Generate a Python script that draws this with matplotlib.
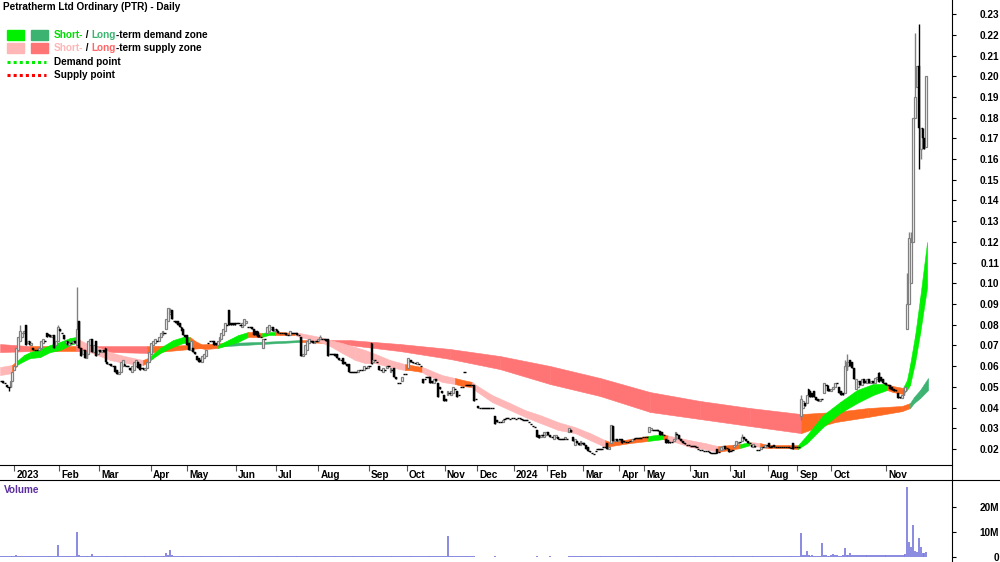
import matplotlib
matplotlib.use('Agg')
import matplotlib.pyplot as plt
from matplotlib.patches import Rectangle
from matplotlib.lines import Line2D
import numpy as np

# daily candles, one slot per trading day, prices in 0.001 AUD
opens = [
    53, 53, 52, 51, 50, 50, 53, 58, 60, 68,
    72, 74, 76, 80, 71, 72, 70, 69, 68, 68,
    68, 69, 71, 72, 76, 75.5, 75, 74, 75, 70,
    72, 78, 76, 75, 71, 72, 70, 71, 71, 72,
    70, 82, 69, 66, 68, 64, 66, 70, 73, 67,
    72, 66, 68, 67, 68, 69, 62, 61, 61, 60,
    60, 58, 56, 57, 60, 61, 60, 60, 59, 57,
    58, 60, 62, 61, 59, 59, 58, 59, 62, 66,
    70, 71, 72, 72, 74, 75, 76, 78, 82, 85,
    87, 82, 82, 82, 81, 79, 78, 75, 75, 71,
    68, 69, 67, 65, 64, 63, 62, 64, 65, 71,
    72, 72, 72, 71, 70, 72, 73, 75, 77, 80,
    87, 81, 81, 81, 81, 81, 80, 79, 80, 81,
    79, 79, 79, 78, 77, 77, 75, 74, 69, 73,
    76, 77, 78, 79, 77, 78, 77, 76, 76, 76,
    76, 75, 75, 76, 76, 76, 76, 75, 74, 65,
    66, 68, 71, 72, 72, 71, 72, 72, 73, 73,
    73, 73, 73, 66, 66, 66, 66, 66, 64, 63,
    64, 62, 61, 61, 57, 57, 57, 57, 57, 58,
    58, 58, 59, 59, 60, 71, 62, 63, 62, 60,
    58, 57, 58, 59, 60, 57, 58, 59, 55, 52,
    52, 53, 56, 56, 59, 62, 63, 62, 61.5, 61,
    61, 60, 54, 54, 55, 55, 55, 53, 52, 54,
    52, 50, 48, 46, 44, 46, 47, 46, 47, 49,
    48, 46, 50, 50, 57, 51, 51, 51, 51, 51,
    44, 41, 40, 40, 40, 40, 40, 40, 40, 40,
    36, 34, 33, 33, 33, 34.5, 35, 35, 34.5, 35,
    35, 34.5, 35, 35, 34.5, 34, 34, 34, 33, 32,
    31, 30.5, 29, 27, 26, 27, 26, 27, 28, 27,
    26, 25, 26, 26, 25, 25, 25, 25, 25, 28,
    29, 26, 22, 24, 23, 22, 23, 23, 22, 21,
    19, 18, 17.5, 19, 20, 20, 20, 21, 21, 23,
    20, 23, 31, 24, 25, 24, 25, 25, 24, 23.5,
    23.5, 24, 24, 25, 25.5, 25.5, 25.5, 25.5, 26, 26,
    26, 28, 29, 29, 29, 29, 29, 28.5, 28, 27,
    25, 24.5, 23.5, 23.5, 24, 25, 27.5, 27, 25, 24,
    23, 22, 22, 21.5, 21.5, 21.5, 21, 20, 19.5, 19.5,
    19, 19, 19, 18.5, 18, 18, 18, 20, 18.5, 19.5,
    20, 21.5, 20.5, 20, 19, 19.5, 21, 22, 23, 23.5,
    24, 26, 25, 24, 23, 22, 21, 21.5, 19.5, 19.5,
    20, 21, 21, 22, 23, 21, 21.5, 22, 21, 21,
    21, 21, 21, 21, 21, 21, 20.5, 23, 21, 21,
    21, 36, 40, 42, 42, 49, 48, 47, 48, 45,
    44, 43, 44, 47, 51, 51, 49, 48, 49, 50,
    52, 50, 48, 47, 47, 58, 60, 63, 62, 59,
    49, 50, 53, 51, 54, 53, 52, 54, 52, 53,
    52, 54, 56.5, 55, 54, 52, 52, 51, 51, 50,
    49, 48.5, 47, 45, 44.5, 46, 48, 78, 90, 100,
    120, 180, 195, 205, 165, 175, 170, 166,
]
closes = [
    53, 52, 52, 50, 50, 53, 57, 60, 69, 74,
    77, 76, 77, 70, 72, 70, 71, 68, 68, 68,
    69, 72, 73, 72, 74, 74.5, 74, 75, 69, 72,
    79, 77, 76, 73, 72, 70, 71, 71, 72, 71,
    78, 69, 65, 68, 64, 67, 72, 73, 67, 70,
    65, 68, 67, 68, 67, 62, 61, 61, 60, 60,
    57, 56, 57, 62, 63, 60, 60, 60, 58, 60,
    62, 63, 59, 58, 59, 58, 59, 62, 67, 71,
    72, 73, 72, 74, 76, 77, 76, 83, 88, 86,
    83, 82, 81, 80, 79, 77, 75, 74, 70, 68,
    72, 67, 66, 63, 62, 62, 65, 66, 68, 71,
    72, 72, 70, 70, 72, 74, 76, 78, 81, 80,
    80, 80, 80, 80, 81, 81, 80, 81, 83, 82,
    79, 79, 78, 75, 75, 74, 74, 74, 73, 73,
    79, 80, 79, 77, 78, 77, 76, 76, 76, 76,
    75, 75, 77, 76, 76, 76, 75, 75, 65, 66,
    70, 72, 73, 72, 71, 72, 72, 73, 74, 73,
    73, 72, 65, 66, 66, 66, 65, 64, 63, 63,
    61, 61, 60, 57, 57, 57, 57, 57, 58, 58,
    58, 60, 59, 60, 60, 61, 63, 63, 62, 58,
    58, 59, 58, 60, 60, 59, 58, 55, 54, 52,
    52, 55, 56, 56, 64, 63, 62, 61.5, 61.5, 62,
    61, 60, 52, 54, 55, 55, 52, 52, 54, 53,
    45, 49, 47, 43, 43, 48, 47, 48, 50, 49,
    45, 46, 50, 50, 57, 51, 51, 51, 51, 43,
    44, 40, 40, 40, 40, 40, 40, 40, 40, 40,
    32, 33, 33, 33, 34, 34.5, 35, 35, 34.5, 35,
    35, 34.5, 35, 35, 34.5, 34, 34, 34, 33, 32,
    31, 30.5, 26, 25.5, 27, 27, 28, 28, 27, 26,
    26, 27, 27, 25, 25, 25, 25, 26, 25, 30,
    28, 24, 25, 23, 22, 24, 23, 22, 20, 19,
    18.5, 18, 17.5, 19, 20, 20, 20, 21, 21, 20,
    21, 31.5, 24, 25, 24, 24.5, 24.5, 23, 23.5, 23.5,
    23.5, 24, 25, 25, 25.5, 25.5, 25.5, 25.5, 26, 26,
    26, 30.5, 30, 29, 29, 29, 28.5, 27, 27, 27,
    23, 23, 23, 23.5, 25, 28, 27, 25, 24, 23,
    22.5, 22, 22, 21.5, 21.5, 21.5, 21, 20, 19.5, 19.5,
    19, 19, 19, 18, 18, 18, 18, 18, 18.5, 21,
    21.5, 20, 20.5, 18.5, 19, 19.5, 22, 24, 23.5, 23.5,
    26, 25, 24, 23, 23, 21, 22.5, 21, 19.5, 19.5,
    21, 21, 22, 22, 21, 21, 21, 21, 21, 21,
    21, 21, 21, 21, 21, 20.5, 20.5, 20, 21, 21,
    21, 44, 43, 41, 46, 46, 45, 45, 45, 43.5,
    43, 44, 44, 52, 51, 48, 48, 49, 50, 52,
    52, 47, 46, 46, 60, 62, 62, 60, 59, 54,
    54, 53, 51, 54, 52, 52, 54, 52, 53, 52,
    54.5, 55, 52.5, 53, 52, 52, 51, 51, 49, 48.5,
    48, 48, 44.5, 44.5, 46, 49, 50, 90, 122, 120,
    180, 190, 205, 175, 175, 170, 165, 200,
]
# notable wicks: slot -> (high, low), same units
wicks = {4: (50, 48), 10: (80, 72), 30: (80, 72), 40: (98, 70), 89: (88, 85),
         168: (75, 73), 390: (27.5, 24), 421: (46, 34), 444: (63, 47),
         445: (66, 58), 462: (57, 52.5), 477: (105, 78), 478: (125, 90),
         479: (125, 100), 481: (221, 180), 483: (225, 155), 484: (175, 160)}

# volume in units of 100k shares
volume = [
    5, 4, 5, 6, 4, 5, 6, 5, 7, 6,
    5, 4, 6, 5, 4, 5, 5, 4, 4, 5,
    5, 5, 4, 5, 5, 4, 5, 5, 4, 4,
    50, 5, 4, 5, 4, 5, 5, 4, 4, 5,
    100, 8, 6, 5, 4, 5, 4, 6, 12, 5,
    5, 4, 5, 4, 4, 6, 5, 4, 4, 5,
    5, 4, 4, 5, 5, 4, 4, 4, 5, 4,
    4, 5, 4, 5, 4, 4, 4, 5, 5, 6,
    5, 5, 4, 5, 6, 5, 6, 15, 7, 30,
    8, 6, 5, 5, 4, 5, 5, 4, 5, 4,
    4, 5, 4, 4, 5, 4, 4, 5, 4, 4,
    4, 4, 5, 4, 4, 5, 4, 5, 5, 4,
    4, 3, 3, 3, 3, 3, 3, 3, 4, 3,
    3, 3, 3, 3, 3, 3, 3, 3, 4, 3,
    3, 3, 3, 3, 3, 3, 3, 3, 3, 3,
    3, 3, 3, 3, 3, 3, 3, 3, 4, 3,
    3, 3, 3, 3, 3, 3, 3, 3, 3, 3,
    3, 3, 4, 3, 3, 3, 3, 3, 3, 3,
    3, 3, 3, 3, 3, 3, 3, 3, 3, 3,
    3, 3, 3, 3, 3, 4, 3, 3, 3, 3,
    3, 3, 3, 3, 3, 3, 3, 3, 3, 3,
    3, 3, 3, 3, 4, 3, 3, 3, 3, 3,
    3, 3, 3, 3, 3, 3, 3, 3, 3, 3,
    3, 3, 3, 3, 3, 85, 3, 3, 3, 3,
    3, 3, 3, 3, 3, 3, 3, 3, 3, 3,
    2, 2, 2, 2, 2, 2, 2, 2, 2, 2,
    3, 2, 2, 2, 2, 2, 2, 2, 2, 2,
    2, 2, 2, 2, 2, 2, 2, 2, 2, 2,
    2, 2, 3, 2, 2, 2, 2, 2, 2, 3,
    2, 2, 2, 2, 2, 2, 2, 2, 2, 3,
    3, 3, 3, 3, 3, 3, 3, 3, 4, 4,
    3, 3, 3, 3, 3, 3, 3, 3, 3, 3,
    3, 6, 4, 3, 3, 3, 3, 3, 3, 3,
    3, 3, 3, 3, 3, 3, 3, 3, 3, 3,
    3, 4, 3, 3, 3, 3, 3, 3, 3, 3,
    3, 3, 3, 3, 3, 4, 3, 3, 3, 3,
    3, 3, 3, 3, 3, 3, 3, 3, 3, 3,
    3, 3, 3, 3, 3, 3, 3, 3, 3, 3,
    3, 3, 3, 3, 3, 3, 3, 4, 3, 3,
    4, 3, 3, 3, 3, 3, 3, 3, 3, 3,
    3, 3, 3, 3, 3, 3, 3, 3, 3, 3,
    3, 3, 3, 3, 3, 3, 3, 4, 3, 3,
    4, 95, 10, 8, 25, 7, 6, 7, 6, 6,
    6, 6, 55, 8, 7, 6, 6, 7, 12, 7,
    7, 6, 6, 8, 35, 10, 8, 15, 8, 7,
    8, 7, 7, 8, 7, 7, 8, 7, 7, 8,
    8, 9, 8, 8, 9, 8, 8, 9, 8, 9,
    9, 9, 10, 9, 9, 10, 12, 280, 60, 40,
    130, 25, 20, 75, 40, 18, 15, 20,
]

# month axis (slot of first trading day)
month_pos = [7, 30.5, 51.5, 79, 98, 123.5, 144.5, 167, 193.5, 213.5, 233.5, 250.5,
             270, 287.5, 306.5, 325.5, 338.5, 362.5, 383.5, 403.5, 419, 437, 466]
month_lab = ['2023', 'Feb', 'Mar', 'Apr', 'May', 'Jun', 'Jul', 'Aug', 'Sep', 'Oct',
             'Nov', 'Dec', '2024', 'Feb', 'Mar', 'Apr', 'May', 'Jun', 'Jul', 'Aug',
             'Sep', 'Oct', 'Nov']

# short-term zone: slot, upper, lower, colour of segment to next point
st_x = [-0.5, 5.8, 8.4, 12.1, 15.3, 20.5, 25.8, 31, 36.3, 39.5, 41.6, 46.8, 52.1,
        57.4, 62.6, 69.5, 74.7, 77.4, 80, 83.7, 90.5, 95.8, 99.5, 102.1, 107.4,
        114.2, 119.5, 124.7, 130, 132.6, 137.4, 140.5, 144.2, 146.8, 154.7, 157.4,
        167.9, 173.2, 179.5, 186.3, 191.6, 196.8, 204.7, 212.6, 215.3, 221.6,
        223.2, 232.1, 238.9, 243.2, 247.9, 250, 258.4, 267.9, 275.8, 283.7, 293.2,
        302.1, 310, 317.9, 320.5, 331, 340.5, 348.4, 351, 354.7, 362.6, 370.5,
        377.4, 389, 394.2, 399.5, 403.7, 414.2, 419.5, 424.2, 432.6, 441.6, 450.5,
        459, 466.3, 469.5, 474.7, 476.8, 478.4, 481.1, 483.7, 487.4]
st_hi = [.0596, .0606, .0625, .0654, .0668, .0683, .0702, .0717, .0736, .0741, .0726,
         .0702, .0688, .0668, .0654, .064, .063, .064, .0659, .0688, .0726, .0741,
         .0741, .0722, .0697, .0702, .0726, .075, .0765, .0765, .076, .0765, .0765,
         .0765, .076, .076, .0741, .0726, .0712, .0693, .0678, .066, .063, .061,
         .0606, .0596, .0591, .0557, .0543, .0533, .0524, .0509, .0461, .0422,
         .0388, .0364, .033, .0306, .0277, .0243, .0234, .0248, .0263, .0272,
         .0265, .0258, .0243, .0229, .0214, .0224, .0234, .0229, .0219, .0219,
         .0219, .0268, .0364, .0427, .0485, .0514, .0514, .0504, .0495, .0533,
         .0606, .075, .0929, .120]
st_lo = [.0557, .0567, .0606, .0625, .0639, .0644, .0668, .0678, .0702, .0712, .0697,
         .0668, .0649, .063, .062, .061, .0606, .062, .0639, .0663, .0693, .0712,
         .0712, .0693, .0683, .0688, .0702, .0717, .0741, .0741, .0741, .075, .075,
         .075, .075, .0741, .0717, .0697, .0664, .063, .0615, .0615, .0596, .0581,
         .0581, .0572, .0562, .0524, .0514, .0504, .0499, .048, .0427, .0388,
         .0355, .0326, .0292, .0277, .0243, .021, .0214, .0229, .0239, .0248,
         .024, .0234, .021, .020, .0186, .0205, .0219, .021, .0205, .0205,
         .020, .0229, .0306, .0374, .0422, .0461, .0485, .0475, .0466, .0485,
         .0509, .062, .076, .0982]
st_col = ['p', 'o', 'g', 'g', 'g', 'g', 'g', 'g', 'g', 'o', 'p', 'p', 'p', 'p', 'p',
          'p', 'o', 'g', 'g', 'g', 'g', 'g', 'o', 'o', 'o', 'g', 'g', 'g', 'o', 'o',
          'g', 'g', 'o', 'o', 'p', 'p', 'p', 'p', 'p', 'p', 'p', 'p', 'p', 'o', 'o',
          'p', 'p', 'p', 'o', 'o', 'p', 'p', 'p', 'p', 'p', 'p', 'p', 'p', 'p', 'o',
          'o', 'o', 'g', 'o', 'p', 'p', 'p', 'p', 'o', 'g', 'p', 'o', 'o', 'o', 'g',
          'g', 'g', 'g', 'g', 'g', 'o', 'o', 'g', 'g', 'g', 'g', 'g']

# long-term zone
lt_x = [-0.5, 15.3, 39.5, 76.8, 99.5, 117.9, 136.3, 157.4, 172.1, 183.7, 210, 236.3,
        262.6, 288.9, 315.3, 341.6, 367.9, 394.2, 421.1, 430, 438.9, 456.3, 474.2,
        478.4, 480.5, 483.7, 487.9]
lt_hi = [.0707, .0697, .0697, .0697, .0702, .0712, .0717, .0726, .0726, .0726, .0707,
         .0683, .0649, .0601, .0543, .0475, .0432, .0398, .0369, .0374, .0379,
         .0398, .0408, .0422, .0451, .0485, .0543]
lt_lo = [.0668, .0673, .0673, .0664, .0683, .0697, .0707, .0717, .0712, .0702, .0673,
         .0635, .0586, .0514, .0456, .0379, .0345, .0311, .0277, .0306, .033,
         .0355, .0383, .0398, .0422, .0446, .0485]
lt_col = ['r', 'o', 'r', 'o', 'o', 'G', 'G', 'o', 'r', 'r', 'r', 'r', 'r', 'r', 'r',
          'r', 'r', 'r', 'o', 'o', 'o', 'o', 'o', 'G', 'G', 'G']

ZONE = {'g': '#00f000', 'G': '#3cb371', 'p': '#ffb6b6', 'r': '#ff7474', 'o': '#ff6a22'}
FONT = dict(family=['Liberation Sans', 'DejaVu Sans'], fontweight='bold', fontsize=7.2)

fig = plt.figure(figsize=(10, 5.62), dpi=100)
ax = fig.add_axes([0, 97 / 562, 0.952, 465 / 562])
vax = fig.add_axes([0, 0, 0.952, 82 / 562])


def draw_zone(xs, hi, lo, cols, z):
    for k in range(len(xs) - 1):
        c = ZONE[cols[k]]
        ax.fill_between(xs[k:k + 2], lo[k:k + 2], hi[k:k + 2], color=c, ec=c, lw=0.4, zorder=z)


draw_zone(lt_x, lt_hi, lt_lo, lt_col, 1)
draw_zone(st_x, st_hi, st_lo, st_col, 2)

o = np.array(opens, dtype=float) / 1000
c = np.array(closes, dtype=float) / 1000
x = np.arange(len(c))
hi = np.maximum(o, c)
lo = np.minimum(o, c)
for k, (h, l) in wicks.items():
    hi[k] = max(hi[k], h / 1000)
    lo[k] = min(lo[k], l / 1000)
up = c > o
dn = c < o
flat = c == o
ax.vlines(x[up], lo[up], hi[up], color='#808080', lw=1.0, zorder=3)
ax.vlines(x[~up], lo[~up], hi[~up], color='black', lw=1.0, zorder=3)
ax.bar(x[up], (c - o)[up], bottom=o[up], width=1.0, facecolor='white',
       edgecolor='#808080', lw=0.9, zorder=4)
ax.bar(x[dn], (o - c)[dn], bottom=c[dn], width=1.0, color='black', lw=0.3,
       edgecolor='black', zorder=4)
ax.hlines(c[flat], x[flat] - 0.6, x[flat] + 0.6, color='black', lw=1.0, zorder=4)

ax.set_xlim(-0.53, 500.5)
ax.set_ylim(0.0123, 0.2368)
for s in ['left', 'top', 'right']:
    ax.spines[s].set_visible(False)
ax.spines['bottom'].set_linewidth(0.8)
ax.yaxis.tick_right()
ticks = [round(0.02 + 0.01 * k, 2) for k in range(22)]
ax.set_yticks(ticks)
ax.set_yticklabels(['%.2f' % t for t in ticks], **FONT)
ax.tick_params(axis='y', direction='out', length=3, width=0.8, pad=31)
plt.setp(ax.get_yticklabels(), ha='right')
ax.set_xticks(month_pos)
ax.set_xticklabels([])
ax.tick_params(axis='x', direction='out', length=4, width=0.8, color='#555555')
for p, lab in zip(month_pos, month_lab):
    ax.annotate(lab, xy=(p, 0), xycoords=('data', 'axes fraction'), xytext=(1.5, -3.5),
                textcoords='offset points', ha='left', va='top', **FONT)

# volume panel
vax.vlines(np.arange(len(volume)), 0, np.array(volume) * 1e5, color='#8080dd', lw=1.3)
vax.set_xlim(-0.53, 500.5)
vax.set_ylim(-2e6, 30.8e6)
for s in ['left', 'top', 'bottom', 'right']:
    vax.spines[s].set_visible(False)
vax.set_xticks([])
vax.yaxis.tick_right()
vax.set_yticks([0, 1e7, 2e7])
vax.set_yticklabels(['0', '10M', '20M'], **FONT)
vax.tick_params(axis='y', direction='out', length=3, width=0.8, pad=31)
plt.setp(vax.get_yticklabels(), ha='right')
fig.text(4 / 1000, 1 - 490 / 562, 'Volume', color='#5b2d9e', va='center', **FONT)

# frame lines
fig.add_artist(Line2D([0.952, 0.952], [0, 1], color='black', lw=0.8, transform=fig.transFigure))
fig.add_artist(Line2D([0, 1], [1 - 480 / 562] * 2, color='black', lw=0.8, transform=fig.transFigure))

# title and legend
fig.text(3 / 1000, 1 - 7 / 562, 'Petratherm Ltd Ordinary (PTR) - Daily', va='center', **FONT)
renderer = fig.canvas.get_renderer()


def legend_row(y, pieces):
    xf = 54 / 1000
    for s, col in pieces:
        t = fig.text(xf, 1 - y / 562, s, color=col, va='center', ha='left', **FONT)
        xf = t.get_window_extent(renderer=renderer).x1 / fig.bbox.width


for y, c1, c2 in [(35, ZONE['g'], ZONE['G']), (48, ZONE['p'], ZONE['r'])]:
    for x0, col in [(7, c1), (31, c2)]:
        fig.add_artist(Rectangle((x0 / 1000, 1 - (y + 5) / 562), 17 / 1000, 10 / 562,
                                 color=col, transform=fig.transFigure))
legend_row(35, [('Short-', '#00dd00'), (' / ', 'black'), ('Long', ZONE['G']),
                ('-term demand zone', 'black')])
legend_row(48, [('Short-', ZONE['p']), (' / ', 'black'), ('Long', '#ff6666'),
                ('-term supply zone', 'black')])
for y, col, lab in [(62, '#00ee00', 'Demand point'), (75, '#ff0000', 'Supply point')]:
    fig.add_artist(Line2D([7 / 1000, 46 / 1000], [1 - y / 562] * 2, color=col, lw=2.2,
                          ls=(0, (1, 1)), transform=fig.transFigure))
    legend_row(y, [(lab, 'black')])

fig.savefig('out.png', dpi=100)
